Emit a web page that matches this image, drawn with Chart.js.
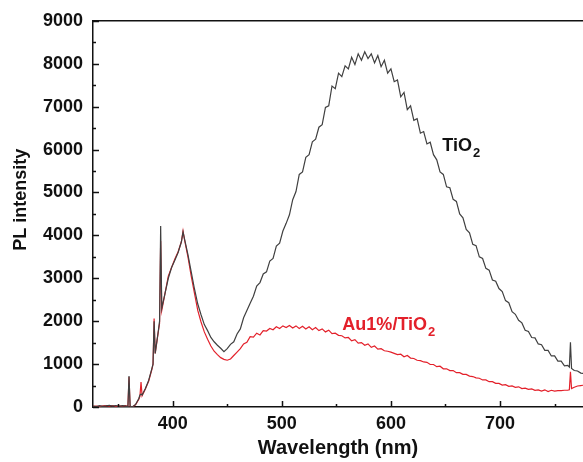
<!DOCTYPE html>
<html>
<head>
<meta charset="utf-8">
<script src="https://cdn.jsdelivr.net/npm/chart.js@4.4.0/dist/chart.umd.min.js"></script>
<style>
  html, body { margin: 0; padding: 0; background: #fff; }
  canvas { display: block; }
</style>
</head>
<body>
<canvas id="pl" width="583" height="462"></canvas>
<script>
// wavelength (nm); extra points where the spikes are
wavelength = [327,330,333,336,339,342,345,348,351,354,357,359,360,361,363,366,369,370,371,372,375,378,381,382,383,384,387,388,389,390,
  393,396,399,402,405,408,409.5,411,414,417,420,423,426,429,432,435,438,441,444,447,450,453,456,459,462,465,468,471,474,477,
  480,483,486,489,492,495,498,501,504,507,510,513,516,519,522,525,528,531,534,537,540,543,546,549,552,555,558,561,564,567,
  570,573,576,579,582,585,588,591,594,597,600,603,606,609,612,615,618,621,624,627,630,633,636,639,642,645,648,651,654,657,
  660,663,666,669,672,675,678,681,684,687,690,693,696,699,702,705,708,711,714,717,720,723,726,729,732,735,738,741,744,747,
  750,753,756,759,762,763.5,764.5,765.5,768,771,774,777]

tio2 = [20,10,30,15,25,40,20,35,15,30,20,10,720,20,0,60,200,280,300,280,430,620,900,1000,2000,1250,1800,2000,4220,2300,
  2650,3000,3250,3420,3600,3850,4080,3900,3550,3150,2750,2400,2150,1920,1780,1620,1520,1440,1370,1290,1360,1460,1520,1700,1820,2080,2250,2420,2580,2820,
  2900,3100,3150,3400,3460,3750,3820,4100,4280,4480,4830,5020,5420,5480,5820,5880,6180,6240,6520,6580,6980,7020,7480,7420,7780,7700,7950,7880,8150,7980,
  8230,8080,8280,8120,8230,8020,8190,7930,8080,7780,7880,7580,7620,7230,7330,6930,7020,6680,6720,6380,6420,6130,6170,5880,5760,5480,5420,5130,5110,4840,
  4790,4500,4410,4140,4060,3790,3760,3500,3460,3230,3190,2960,2930,2760,2690,2480,2430,2220,2160,2020,1960,1790,1760,1620,1610,1470,1450,1320,1320,1190,
  1190,1070,1070,960,970,930,1510,900,850,840,790,780]

au_tio2 = [15,20,10,25,30,20,35,15,25,20,30,10,700,15,0,50,180,250,580,260,420,600,880,1000,2060,1250,1780,1950,3870,2250,
  2650,3050,3250,3450,3620,3850,4100,3880,3500,3050,2650,2250,1980,1750,1580,1420,1300,1220,1150,1110,1090,1120,1200,1280,1360,1470,1510,1640,1630,1720,
  1680,1780,1770,1830,1800,1870,1830,1890,1850,1900,1840,1890,1830,1880,1820,1870,1800,1850,1780,1820,1750,1790,1710,1720,1670,1660,1610,1620,1540,1570,
  1490,1500,1440,1470,1390,1420,1350,1360,1310,1300,1280,1250,1220,1230,1170,1200,1140,1130,1090,1080,1050,1040,990,990,940,950,890,890,850,850,
  800,800,760,760,720,710,680,670,630,630,590,590,550,550,510,520,480,490,460,470,430,440,410,420,390,400,370,400,360,390,
  370,380,380,390,390,400,820,430,460,490,500,510]

xTicks = [400, 500, 600, 700]
xMinor = [350, 450, 550, 650, 750]
yTicks = [0, 1000, 2000, 3000, 4000, 5000, 6000, 7000, 8000, 9000]
yMinor = [500, 1500, 2500, 3500, 4500, 5500, 6500, 7500, 8500]

// where the curve names sit, in data units
labels = [
  { main: 'TiO', sub: '2', x: 647, y: 5960, color: '#111' },
  { main: 'Au1%/TiO', sub: '2', x: 555.5, y: 1790, color: '#e3202a' }
]

FONT = 'Liberation Sans, Arial, sans-serif'

function pts(ys) {
  return wavelength.map((w, i) => ({ x: w, y: ys[i] }))
}

// inward ticks, top frame line, y title and the curve names
frame = {
  id: 'frame',
  afterDraw(chart) {
    ctx = chart.ctx
    a = chart.chartArea
    x = chart.scales.x
    y = chart.scales.y
    ctx.save()
    ctx.strokeStyle = '#111'
    ctx.lineWidth = 1.5
    ctx.beginPath()
    ctx.moveTo(a.left, a.top)
    ctx.lineTo(a.right, a.top)
    yTicks.concat(yMinor).forEach(v => {
      py = Math.round(y.getPixelForValue(v)) + 0.5
      len = yTicks.includes(v) ? 6 : 3
      ctx.moveTo(a.left, py)
      ctx.lineTo(a.left + len, py)
    })
    xTicks.concat(xMinor).forEach(v => {
      px = Math.round(x.getPixelForValue(v)) + 0.5
      len = xTicks.includes(v) ? 6 : 3
      ctx.moveTo(px, a.bottom)
      ctx.lineTo(px, a.bottom - len)
    })
    ctx.stroke()

    // y title sits a little above the middle of the axis in the original
    ctx.save()
    ctx.translate(21, y.getPixelForValue(4830))
    ctx.rotate(-Math.PI / 2)
    ctx.fillStyle = '#111'
    ctx.font = 'bold 18px ' + FONT
    ctx.textAlign = 'center'
    ctx.textBaseline = 'middle'
    ctx.fillText('PL intensity', 0, 0)
    ctx.restore()

    labels.forEach(l => {
      px = x.getPixelForValue(l.x)
      py = y.getPixelForValue(l.y)
      ctx.fillStyle = l.color
      ctx.textBaseline = 'alphabetic'
      ctx.font = 'bold 18px ' + FONT
      ctx.fillText(l.main, px, py)
      w = ctx.measureText(l.main).width
      ctx.font = 'bold 13px ' + FONT
      ctx.fillText(l.sub, px + w + 1, py + 6)
    })
    ctx.restore()
  }
}

config = {
  type: 'line',
  data: {
    datasets: [
      { label: 'TiO2', data: pts(tio2), borderColor: '#404040', borderWidth: 1.2 },
      { label: 'Au1%/TiO2', data: pts(au_tio2), borderColor: '#e3202a', borderWidth: 1.2 }
    ]
  },
  options: {
    responsive: false,
    animation: false,
    layout: { padding: { top: 19, right: 0, left: 0, bottom: 0 } },
    elements: { point: { radius: 0 }, line: { tension: 0 } },
    plugins: { legend: { display: false }, tooltip: { enabled: false } },
    scales: {
      x: {
        type: 'linear',
        min: 327,
        max: 776,
        afterBuildTicks: s => { s.ticks = xTicks.map(v => ({ value: v })) },
        afterFit: s => { s.height = 55 },
        grid: { display: false, drawTicks: false },
        border: { display: true, color: '#111', width: 1.5 },
        ticks: { color: '#111', font: { family: FONT, size: 18, weight: 'bold' }, padding: 6, maxRotation: 0, callback: v => String(v) },
        title: { display: true, text: 'Wavelength (nm)', color: '#111', font: { family: FONT, size: 20, weight: 'bold' }, padding: { top: 2, bottom: 2 } }
      },
      y: {
        min: 0,
        max: 9000,
        afterBuildTicks: s => { s.ticks = yTicks.map(v => ({ value: v })) },
        afterFit: s => { s.width = 93 },
        grid: { display: false, drawTicks: false },
        border: { display: true, color: '#111', width: 1.5 },
        ticks: { color: '#111', font: { family: FONT, size: 18, weight: 'bold' }, padding: 10, callback: v => String(v) },
        title: { display: false }
      }
    }
  },
  plugins: [frame]
}

new Chart(document.getElementById('pl'), config)
</script>
</body>
</html>
